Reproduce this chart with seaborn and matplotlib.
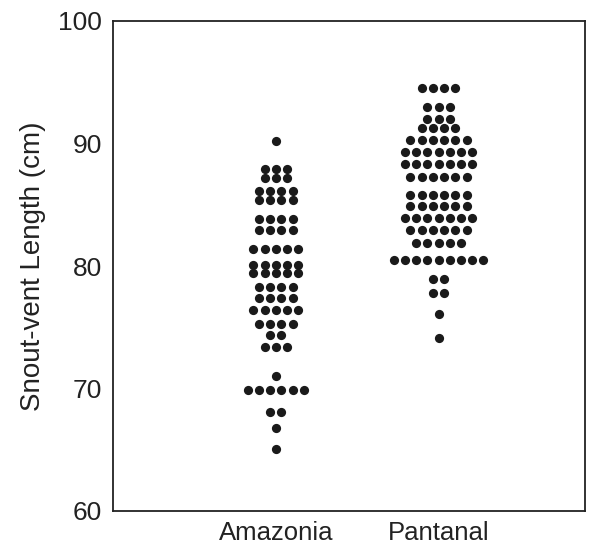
import numpy as np
import pandas as pd
import seaborn as sns
import matplotlib.pyplot as plt

# ---- data (value rows, with the number of animals in each row)
categories = ["Amazonia", "Pantanal"]
amazonia_values = [90.2, 87.9, 87.2, 86.1, 85.4, 83.8, 82.9, 81.4, 80.1, 79.4, 78.3,
                   77.4, 76.4, 75.3, 74.4, 73.4, 71.0, 69.9, 68.1, 66.8, 65.1]
amazonia_counts = [1, 3, 3, 4, 4, 4, 4, 5, 5, 5, 4, 4, 5, 4, 2, 3, 1, 6, 2, 1, 1]
pantanal_values = [94.5, 93.0, 92.0, 91.3, 90.3, 89.3, 88.3, 87.3, 85.8, 84.9, 83.9,
                   82.9, 81.9, 80.5, 78.9, 77.8, 76.1, 74.1]
pantanal_counts = [4, 3, 3, 4, 6, 7, 7, 6, 6, 6, 7, 6, 5, 9, 2, 2, 1, 1]
y_ticks = [60, 70, 80, 90, 100]
y_label = "Snout-vent Length (cm)"

# ---- build long table: one row per animal
rows = []
for cat, vals, cnts in [(categories[0], amazonia_values, amazonia_counts),
                        (categories[1], pantanal_values, pantanal_counts)]:
    for v, n in zip(vals, cnts):
        for _ in range(n):
            rows.append((cat, v))
df = pd.DataFrame(rows, columns=["site", "length"])

# centred dot-plot layout: equal values are spread symmetrically about the category
spacing = 0.069
df["rank"] = df.groupby(["site", "length"]).cumcount()
df["n"] = df.groupby(["site", "length"])["length"].transform("size")
df["xpos"] = df["site"].map({c: i for i, c in enumerate(categories)}) + \
    (df["rank"] - (df["n"] - 1) / 2) * spacing

sns.set_style("white")
plt.rcParams["font.family"] = ["Liberation Sans", "DejaVu Sans"]

fig = plt.figure(figsize=(6.09, 5.47), dpi=100)
ax = fig.add_axes([113 / 609, 1 - 511 / 547, (585 - 113) / 609, (511 - 21) / 547])

sns.scatterplot(data=df, x="xpos", y="length", ax=ax, color="#1a1a1a",
                s=44, linewidth=0, legend=False)

ax.set_xlim(-1.0, 1.9)
ax.set_ylim(60, 100)
ax.set_xticks(range(len(categories)))
ax.set_xticklabels(categories)
ax.set_yticks(y_ticks)
ax.set_xlabel("")
ax.set_ylabel(y_label, fontsize=20, color="#222222", labelpad=9)
ax.tick_params(axis="both", direction="in", length=7, width=1.2, colors="#222222",
               pad=8)
ax.tick_params(axis="y", labelsize=19)
ax.tick_params(axis="x", labelsize=18.5, pad=7)
for sp in ax.spines.values():
    sp.set_visible(True)
    sp.set_color("#222222")
    sp.set_linewidth(1.3)

fig.savefig("out.png", dpi=100)
